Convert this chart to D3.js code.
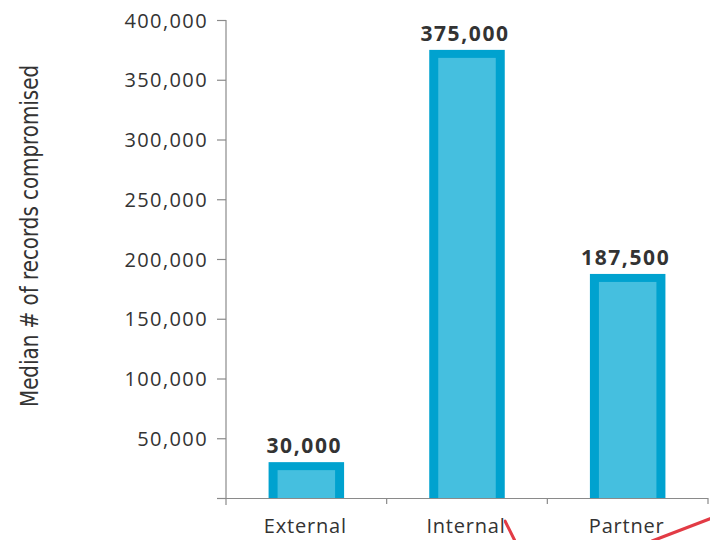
<!DOCTYPE html>
<html>
<head>
<meta charset="utf-8">
<script src="https://cdn.jsdelivr.net/npm/d3@7"></script>
<style>
  html, body { margin: 0; padding: 0; background: #fff; }
  svg { display: block; }
</style>
</head>
<body>
<svg id="chart" width="710" height="540"></svg>
<script>
// Median number of records compromised, by source of breach
const categories = ["External", "Internal", "Partner"];
const medianRecords = [30000, 375000, 187500];
const yTicks = [0, 50000, 100000, 150000, 200000, 250000, 300000, 350000, 400000];
const yTitle = "Median # of records compromised";

const svg = d3.select("#chart");
const plotLeft = 226, plotRight = 708, plotTop = 20, plotBottom = 498;

const x = d3.scaleBand().domain(categories).range([plotLeft, plotRight]).padding(0);
const y = d3.scaleLinear().domain([0, 400000]).range([plotBottom, plotTop]);
const barW = x.bandwidth() * 0.47;
const border = 9;

const textColor = "#333333";
const axisColor = "#8a8a8a";
const uiFont = "'Open Sans', 'Noto Sans', sans-serif";

// Y axis
const yAxis = svg.append("g")
  .attr("transform", `translate(${plotLeft},0)`)
  .call(d3.axisLeft(y).tickValues(yTicks).tickSize(9).tickPadding(9)
    .tickFormat(d => d === 0 ? "" : d3.format(",")(d)));
yAxis.select(".domain").remove();
yAxis.selectAll(".tick line").attr("stroke", axisColor).attr("stroke-width", 1.2);
yAxis.selectAll(".tick text")
  .attr("fill", textColor)
  .style("font-family", uiFont)
  .style("font-size", "20px")
  .style("font-weight", "500")
  .style("letter-spacing", "1.4px")
  .attr("dy", "0.36em");
svg.append("line")
  .attr("x1", plotLeft).attr("x2", plotLeft)
  .attr("y1", y(400000)).attr("y2", plotBottom + 7)
  .attr("stroke", axisColor).attr("stroke-width", 1.2);

// X axis with ticks at category boundaries
svg.append("line")
  .attr("x1", plotLeft - 9).attr("x2", plotRight)
  .attr("y1", plotBottom + 0.5).attr("y2", plotBottom + 0.5)
  .attr("stroke", axisColor).attr("stroke-width", 1.2);
const boundaries = categories.map(c => x(c) + x.bandwidth());
svg.selectAll(".xtick").data(boundaries).join("line")
  .attr("class", "xtick")
  .attr("x1", d => d).attr("x2", d => d)
  .attr("y1", plotBottom).attr("y2", plotBottom + 6)
  .attr("stroke", axisColor).attr("stroke-width", 1.2);

// Bars: dark outline with lighter fill
const bars = svg.append("g");
const rows = categories.map((c, i) => ({ c, v: medianRecords[i] }));
bars.selectAll(".outer").data(rows).join("rect")
  .attr("class", "outer")
  .attr("x", d => x(d.c) + x.bandwidth() / 2 - barW / 2)
  .attr("y", d => y(d.v))
  .attr("width", barW)
  .attr("height", d => y(0) - y(d.v))
  .attr("fill", "#00a2cf");
bars.selectAll(".inner").data(rows).join("rect")
  .attr("class", "inner")
  .attr("x", d => x(d.c) + x.bandwidth() / 2 - barW / 2 + border)
  .attr("y", d => y(d.v) + border - 1)
  .attr("width", barW - 2 * border)
  .attr("height", d => y(0) - y(d.v) - border + 1)
  .attr("fill", "#45bfdf");

// Value labels
svg.selectAll(".val").data(rows).join("text")
  .attr("class", "val")
  .attr("x", d => x(d.c) + x.bandwidth() / 2 - 2)
  .attr("y", d => y(d.v) - 9)
  .attr("text-anchor", "middle")
  .attr("fill", textColor)
  .style("font-family", uiFont)
  .style("font-weight", "700")
  .style("font-size", "21px")
  .style("letter-spacing", "1.6px")
  .text(d => d3.format(",")(d.v));

// Category labels
svg.selectAll(".cat").data(categories).join("text")
  .attr("class", "cat")
  .attr("x", d => x(d) + x.bandwidth() / 2 - 1)
  .attr("y", 533)
  .attr("text-anchor", "middle")
  .attr("fill", textColor)
  .style("font-family", uiFont)
  .style("font-size", "20px")
  .style("font-weight", "500")
  .style("letter-spacing", "0.8px")
  .text(d => d);

// Y axis title, condensed
svg.append("text")
  .attr("transform", `translate(38,${(y(400000) + plotBottom) / 2 - 23}) rotate(-90)`)
  .attr("text-anchor", "middle")
  .attr("fill", textColor)
  .attr("textLength", 342)
  .attr("lengthAdjust", "spacingAndGlyphs")
  .style("font-family", "'Liberation Sans Narrow', 'DejaVu Sans', sans-serif")
  .style("font-stretch", "condensed")
  .style("font-size", "25px")
  .text(yTitle);

// Red annotation strokes near the bottom edge
const strokes = [
  [[505, 521], [515, 541]],
  [[652, 541], [712, 518]]
];
const defs = svg.append("defs");
defs.append("filter").attr("id", "soft")
  .append("feGaussianBlur").attr("stdDeviation", 0.7);
svg.selectAll(".note").data(strokes).join("path")
  .attr("class", "note")
  .attr("d", d => d3.line()(d))
  .attr("stroke", "#e23a45")
  .attr("stroke-width", 3)
  .attr("stroke-linecap", "round")
  .attr("fill", "none")
  .attr("filter", "url(#soft)");
</script>
</body>
</html>
